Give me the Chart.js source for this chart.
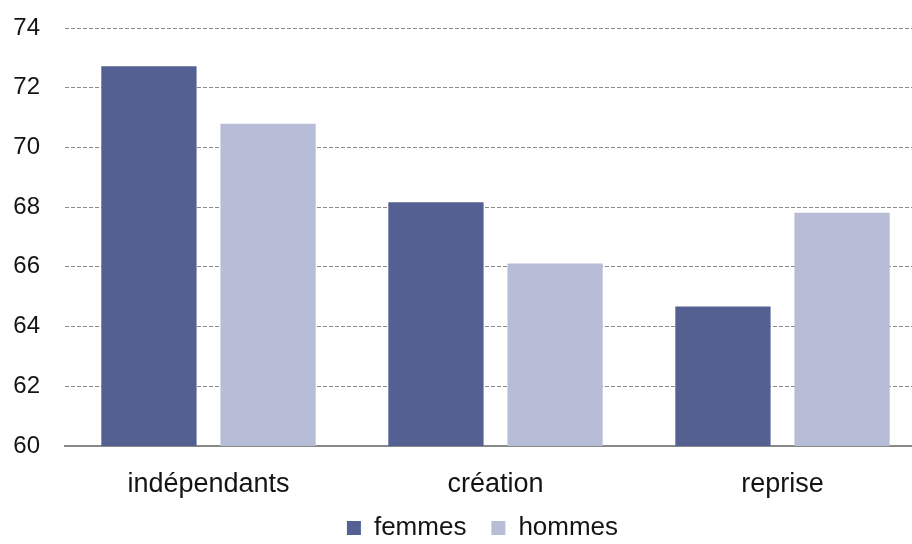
<!DOCTYPE html>
<html>
<head>
<meta charset="utf-8">
<script src="https://cdn.jsdelivr.net/npm/chart.js@4/dist/chart.umd.min.js"></script>
<style>
  html, body { margin: 0; padding: 0; background: #fff; overflow: hidden; }
  #wrap { width: 926px; height: 544px; }
</style>
</head>
<body>
<div id="wrap"><canvas id="graph"></canvas></div>
<script>
// === DATA === //

const categories = ["indépendants", "création", "reprise"]
const femmes = [72.72, 68.16, 64.67]
const hommes = [70.79, 66.11, 67.81]
const yTicks = [60, 62, 64, 66, 68, 70, 72, 74]

// === CHART === //

const textColor = '#141414'
const fontFamily = '"Liberation Sans", Arial, sans-serif'

// nudge the legend so it sits under the middle of the bars
const legendShift = {
  id: 'legendShift',
  afterLayout(chart) {
    const legend = chart.legend
    if (!legend) return
    legend.left += 14
    legend.right += 14
    legend.top -= 20
    legend.bottom -= 20
  }
}

const data = {
  labels: categories,
  datasets: [{
    label: 'femmes',
    data: femmes,
    backgroundColor: '#556092',
    borderWidth: 0
  }, {
    label: 'hommes',
    data: hommes,
    backgroundColor: '#b7bdd6',
    borderWidth: 0
  }]
}

const config = {
  type: 'bar',
  data,
  options: {
    responsive: true,
    maintainAspectRatio: false,
    animation: false,
    categoryPercentage: 0.83,
    barPercentage: 0.8,
    layout: {
      padding: { left: 11, right: 0, top: 28, bottom: -27 }
    },
    plugins: {
      legend: {
        position: 'bottom',
        labels: {
          boxWidth: 14,
          boxHeight: 14,
          padding: 25,
          color: textColor,
          font: { family: fontFamily, size: 26, lineHeight: 1 }
        }
      },
      tooltip: { enabled: false }
    },
    scales: {
      x: {
        afterFit(axis) { axis.height = 64 },
        grid: { display: false, drawTicks: false },
        border: { display: true, color: '#888888', width: 2 },
        ticks: {
          color: textColor,
          padding: 22,
          font: { family: fontFamily, size: 27 }
        }
      },
      y: {
        min: yTicks[0],
        max: yTicks[yTicks.length - 1],
        afterBuildTicks(axis) {
          axis.ticks = yTicks.map(v => ({ value: v }))
        },
        afterFit(axis) {
          axis.width = 54
          // labels may stick out past the plot edges, the padding handles that
          axis.paddingTop = 0
          axis.paddingBottom = 0
        },
        grid: {
          color: '#8a8a8a',
          lineWidth: 1,
          drawTicks: false
        },
        border: { display: false, dash: [4, 2] },
        ticks: {
          color: textColor,
          padding: 25,
          font: { family: fontFamily, size: 24 }
        }
      }
    }
  },
  plugins: [legendShift]
}

const chart = new Chart(document.getElementById('graph'), config)
</script>
</body>
</html>
